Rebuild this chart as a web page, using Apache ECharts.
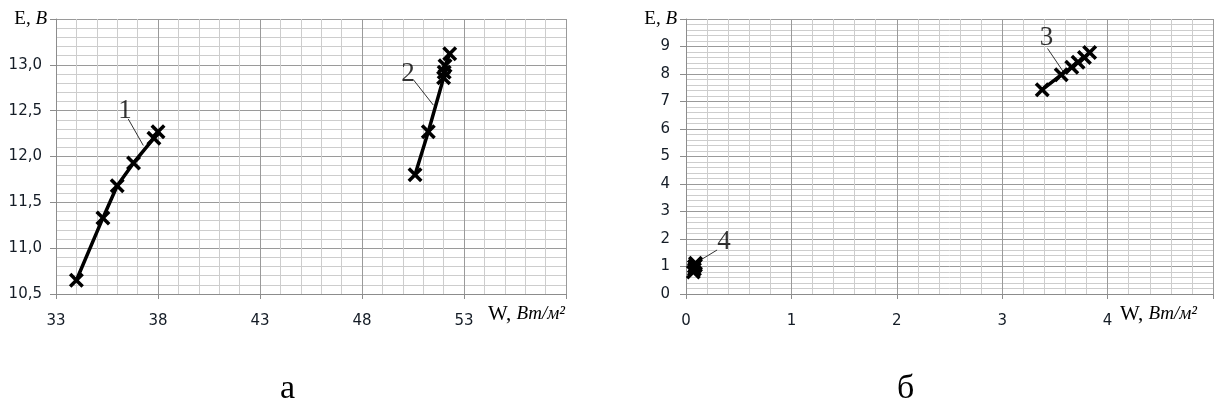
<!DOCTYPE html>
<html>
<head>
<meta charset="utf-8">
<script src="https://cdn.jsdelivr.net/npm/echarts@6/dist/echarts.min.js"></script>
<style>
  html, body { margin: 0; padding: 0; background: #fff; }
  #chart { width: 1225px; height: 414px; }
</style>
</head>
<body>
<div id="chart"></div>
<script>
// chart a: W (33..58) vs E (10.5..13.5)
const wA1 = [34.0, 35.3, 36.0, 36.8, 37.8, 38.0];
const eA1 = [10.65, 11.33, 11.68, 11.93, 12.2, 12.27];
const wA2 = [50.6, 51.25, 52.0, 52.03, 52.07, 52.3];
const eA2 = [11.8, 12.27, 12.86, 12.92, 12.99, 13.12];

// chart б: W (0..5) vs E (0..10)
const wB3 = [3.38, 3.56, 3.66, 3.72, 3.78, 3.83];
const eB3 = [7.43, 7.97, 8.25, 8.43, 8.6, 8.78];
const wB4 = [0.07, 0.08, 0.08, 0.09, 0.09];
const eB4 = [0.8, 0.9, 1.0, 1.05, 1.12];

// curve numbers: text, label point, leader start, leader end (data units)
const tagsA = [
  ["1", [36.38, 12.5], [36.54, 12.41], [37.28, 12.12]],
  ["2", [50.25, 12.9], [50.51, 12.84], [51.5, 12.56]],
];
const tagsB = [
  ["3", [3.42, 9.3], [3.43, 8.93], [3.58, 8.08]],
  ["4", [0.36, 1.89], [0.295, 1.6], [0.14, 1.24]],
];

const axisA = { xMin: 33, xMax: 58, xStep: 5, yMin: 10.5, yMax: 13.5, yStep: 0.5 };
const axisB = { xMin: 0, xMax: 5, xStep: 1, yMin: 0, yMax: 10, yStep: 1 };

const chart = echarts.init(document.getElementById("chart"));

// filled "x" marker
const crossPath = "path://M0,2.5 L2.5,0 L7.5,5 L12.5,0 L15,2.5 L10,7.5 L15,12.5 L12.5,15 L7.5,10 L2.5,15 L0,12.5 L5,7.5 Z";
const labelFont = "DejaVu Sans";
const serif = "Liberation Serif";

const richY = {
  n: { fontFamily: serif, fontSize: 19, color: "#000" },
  i: { fontFamily: serif, fontSize: 19, fontStyle: "italic", color: "#000" },
};
const richX = {
  n: { fontFamily: serif, fontSize: 21, color: "#000" },
  i: { fontFamily: serif, fontSize: 19, fontStyle: "italic", color: "#000" },
};

function zip(a, b) {
  return a.map((v, k) => [v, b[k]]);
}

function xAxisOf(ax, idx, gap) {
  return {
    type: "value",
    gridIndex: idx,
    min: ax.xMin,
    max: ax.xMax,
    interval: ax.xStep,
    name: "{n|W, }{i|Вт/м²}",
    nameLocation: "end",
    nameGap: gap,
    nameTextStyle: { rich: richX, align: "left", verticalAlign: "middle", padding: [40, 0, 0, 0] },
    axisLine: { show: true, onZero: false, lineStyle: { color: "#8c8c8c", width: 1 } },
    axisTick: { show: true, length: 5, lineStyle: { color: "#8c8c8c" } },
    axisLabel: {
      margin: 20,
      fontFamily: labelFont,
      fontSize: 15,
      color: "#141c26",
      formatter: (v) => (v === ax.xMax ? "" : String(v)),
    },
    splitLine: { show: true, lineStyle: { color: "#9a9a9a", width: 1 } },
    minorTick: { show: false, splitNumber: 5 },
    minorSplitLine: { show: true, lineStyle: { color: "#cdcdcd", width: 1 } },
  };
}

function yAxisOf(ax, idx, fmt, margin) {
  return {
    type: "value",
    gridIndex: idx,
    min: ax.yMin,
    max: ax.yMax,
    interval: ax.yStep,
    name: "{n|E, }{i|В}",
    nameLocation: "end",
    nameGap: 0,
    nameTextStyle: { rich: richY, align: "right", verticalAlign: "middle", padding: [0, 9, 0, 0] },
    axisLine: { show: true, onZero: false, lineStyle: { color: "#8c8c8c", width: 1 } },
    axisTick: { show: true, length: 6, lineStyle: { color: "#8c8c8c" } },
    axisLabel: {
      margin: margin,
      fontFamily: labelFont,
      fontSize: 15,
      color: "#141c26",
      formatter: (v) => (Math.abs(v - ax.yMax) < 1e-9 ? "" : fmt(v)),
    },
    splitLine: { show: true, lineStyle: { color: "#9a9a9a", width: 1 } },
    minorTick: { show: false, splitNumber: 5 },
    minorSplitLine: { show: true, lineStyle: { color: "#cdcdcd", width: 1 } },
  };
}

function curve(xs, ys, idx) {
  return {
    type: "line",
    xAxisIndex: idx,
    yAxisIndex: idx,
    data: zip(xs, ys),
    symbol: crossPath,
    symbolSize: 15,
    showAllSymbol: true,
    lineStyle: { color: "#000", width: 3.5 },
    itemStyle: { color: "#000" },
    z: 5,
    silent: true,
  };
}

function tagSeries(tags, idx) {
  const out = [];
  tags.forEach((t) => {
    out.push({
      type: "line",
      xAxisIndex: idx,
      yAxisIndex: idx,
      data: [t[2], t[3]],
      symbol: "none",
      lineStyle: { color: "#333", width: 1 },
      z: 4,
      silent: true,
    });
    out.push({
      type: "scatter",
      xAxisIndex: idx,
      yAxisIndex: idx,
      data: [t[1]],
      symbolSize: 0,
      label: {
        show: true,
        position: "inside",
        formatter: t[0],
        fontFamily: serif,
        fontSize: 27,
        color: "#000",
      },
      z: 6,
      silent: true,
    });
  });
  return out;
}

const commaFmt = (v) => v.toFixed(1).replace(".", ",");

chart.setOption({
  backgroundColor: "#fff",
  animation: false,
  grid: [
    { left: 56, top: 19, width: 510, height: 275 },
    { left: 686, top: 19, width: 527, height: 275 },
  ],
  xAxis: [xAxisOf(axisA, 0, -78), xAxisOf(axisB, 1, -93)],
  yAxis: [yAxisOf(axisA, 0, commaFmt, 14), yAxisOf(axisB, 1, (v) => String(v), 16)],
  series: [
    curve(wA1, eA1, 0),
    curve(wA2, eA2, 0),
    curve(wB3, eB3, 1),
    curve(wB4, eB4, 1),
    ...tagSeries(tagsA, 0),
    ...tagSeries(tagsB, 1),
  ],
  graphic: [
    { type: "text", left: 280, top: 372, style: { text: "а", font: "34px " + serif, fill: "#000" } },
    { type: "text", left: 897, top: 372, style: { text: "б", font: "34px " + serif, fill: "#000" } },
  ],
});

window.addEventListener("resize", function () {
  chart.resize();
});
</script>
</body>
</html>
